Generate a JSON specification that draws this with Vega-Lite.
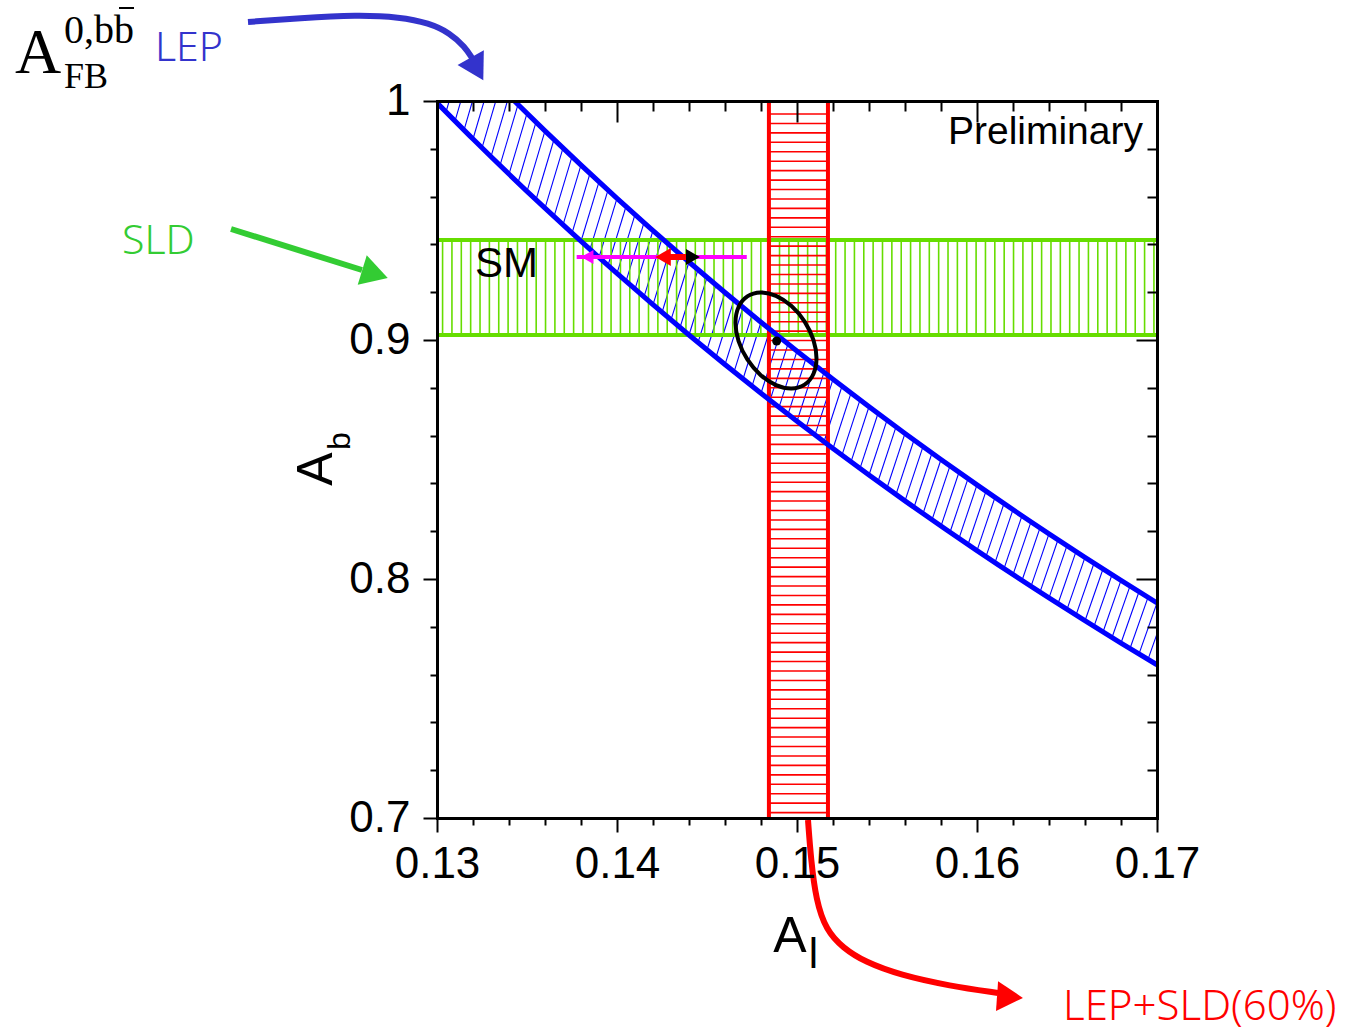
{
"$schema": "https://vega.github.io/schema/vega-lite/v6.json",
"width": 720, "height": 717,
"autosize": {"type": "none"},
"padding": {"left": 437, "top": 101, "right": 203, "bottom": 211},
"background": "white",
"config": {"view": {"stroke": null}},
"datasets": {
"hatchB": [
{"x1":0.1300,"y1":0.99923,"x2":0.1310,"y2":1.02519},
{"x1":0.1305,"y1":0.99539,"x2":0.1315,"y2":1.02130},
{"x1":0.1310,"y1":0.99161,"x2":0.1320,"y2":1.01743},
{"x1":0.1315,"y1":0.98784,"x2":0.1325,"y2":1.01359},
{"x1":0.1320,"y1":0.98409,"x2":0.1330,"y2":1.00977},
{"x1":0.1325,"y1":0.98039,"x2":0.1335,"y2":1.00599},
{"x1":0.1330,"y1":0.97669,"x2":0.1340,"y2":1.00224},
{"x1":0.1335,"y1":0.97303,"x2":0.1345,"y2":0.99851},
{"x1":0.1340,"y1":0.96940,"x2":0.1350,"y2":0.99481},
{"x1":0.1345,"y1":0.96580,"x2":0.1355,"y2":0.99114},
{"x1":0.1350,"y1":0.96222,"x2":0.1360,"y2":0.98750},
{"x1":0.1355,"y1":0.95867,"x2":0.1365,"y2":0.98388},
{"x1":0.1360,"y1":0.95514,"x2":0.1370,"y2":0.98030},
{"x1":0.1365,"y1":0.95165,"x2":0.1375,"y2":0.97672},
{"x1":0.1370,"y1":0.94818,"x2":0.1380,"y2":0.97319},
{"x1":0.1375,"y1":0.94472,"x2":0.1385,"y2":0.96968},
{"x1":0.1380,"y1":0.94131,"x2":0.1390,"y2":0.96619},
{"x1":0.1385,"y1":0.93791,"x2":0.1395,"y2":0.96273},
{"x1":0.1390,"y1":0.93453,"x2":0.1400,"y2":0.95929},
{"x1":0.1395,"y1":0.93119,"x2":0.1405,"y2":0.95586},
{"x1":0.1400,"y1":0.92786,"x2":0.1410,"y2":0.95249},
{"x1":0.1405,"y1":0.92455,"x2":0.1415,"y2":0.94911},
{"x1":0.1410,"y1":0.92128,"x2":0.1420,"y2":0.94578},
{"x1":0.1415,"y1":0.91801,"x2":0.1425,"y2":0.94246},
{"x1":0.1420,"y1":0.91480,"x2":0.1430,"y2":0.93916},
{"x1":0.1425,"y1":0.91158,"x2":0.1435,"y2":0.93588},
{"x1":0.1430,"y1":0.90839,"x2":0.1440,"y2":0.93263},
{"x1":0.1435,"y1":0.90522,"x2":0.1445,"y2":0.92941},
{"x1":0.1440,"y1":0.90208,"x2":0.1450,"y2":0.92622},
{"x1":0.1445,"y1":0.89896,"x2":0.1455,"y2":0.92303},
{"x1":0.1450,"y1":0.89587,"x2":0.1460,"y2":0.91986},
{"x1":0.1455,"y1":0.89279,"x2":0.1465,"y2":0.91672},
{"x1":0.1460,"y1":0.88972,"x2":0.1470,"y2":0.91360},
{"x1":0.1465,"y1":0.88669,"x2":0.1475,"y2":0.91051},
{"x1":0.1470,"y1":0.88367,"x2":0.1480,"y2":0.90743},
{"x1":0.1475,"y1":0.88068,"x2":0.1485,"y2":0.90438},
{"x1":0.1480,"y1":0.87771,"x2":0.1490,"y2":0.90134},
{"x1":0.1485,"y1":0.87475,"x2":0.1495,"y2":0.89833},
{"x1":0.1490,"y1":0.87181,"x2":0.1500,"y2":0.89534},
{"x1":0.1495,"y1":0.86890,"x2":0.1505,"y2":0.89236},
{"x1":0.1500,"y1":0.86600,"x2":0.1510,"y2":0.88941},
{"x1":0.1505,"y1":0.86313,"x2":0.1515,"y2":0.88647},
{"x1":0.1510,"y1":0.86027,"x2":0.1520,"y2":0.88355},
{"x1":0.1515,"y1":0.85743,"x2":0.1525,"y2":0.88066},
{"x1":0.1520,"y1":0.85460,"x2":0.1530,"y2":0.87777},
{"x1":0.1525,"y1":0.85180,"x2":0.1535,"y2":0.87492},
{"x1":0.1530,"y1":0.84902,"x2":0.1540,"y2":0.87208},
{"x1":0.1535,"y1":0.84626,"x2":0.1545,"y2":0.86926},
{"x1":0.1540,"y1":0.84351,"x2":0.1550,"y2":0.86645},
{"x1":0.1545,"y1":0.84078,"x2":0.1555,"y2":0.86367},
{"x1":0.1550,"y1":0.83806,"x2":0.1560,"y2":0.86090},
{"x1":0.1555,"y1":0.83538,"x2":0.1565,"y2":0.85815},
{"x1":0.1560,"y1":0.83270,"x2":0.1570,"y2":0.85541},
{"x1":0.1565,"y1":0.83003,"x2":0.1575,"y2":0.85270},
{"x1":0.1570,"y1":0.82738,"x2":0.1580,"y2":0.85000},
{"x1":0.1575,"y1":0.82476,"x2":0.1585,"y2":0.84731},
{"x1":0.1580,"y1":0.82215,"x2":0.1590,"y2":0.84465},
{"x1":0.1585,"y1":0.81955,"x2":0.1595,"y2":0.84201},
{"x1":0.1590,"y1":0.81698,"x2":0.1600,"y2":0.83938},
{"x1":0.1595,"y1":0.81442,"x2":0.1605,"y2":0.83676},
{"x1":0.1600,"y1":0.81188,"x2":0.1610,"y2":0.83417},
{"x1":0.1605,"y1":0.80935,"x2":0.1615,"y2":0.83159},
{"x1":0.1610,"y1":0.80684,"x2":0.1620,"y2":0.82900},
{"x1":0.1615,"y1":0.80434,"x2":0.1625,"y2":0.82645},
{"x1":0.1620,"y1":0.80184,"x2":0.1630,"y2":0.82393},
{"x1":0.1625,"y1":0.79938,"x2":0.1635,"y2":0.82141},
{"x1":0.1630,"y1":0.79694,"x2":0.1640,"y2":0.81891},
{"x1":0.1635,"y1":0.79450,"x2":0.1645,"y2":0.81641},
{"x1":0.1640,"y1":0.79208,"x2":0.1650,"y2":0.81394},
{"x1":0.1645,"y1":0.78966,"x2":0.1655,"y2":0.81148},
{"x1":0.1650,"y1":0.78727,"x2":0.1660,"y2":0.80903},
{"x1":0.1655,"y1":0.78490,"x2":0.1665,"y2":0.80661},
{"x1":0.1660,"y1":0.78253,"x2":0.1670,"y2":0.80419},
{"x1":0.1665,"y1":0.78018,"x2":0.1675,"y2":0.80178},
{"x1":0.1670,"y1":0.77784,"x2":0.1680,"y2":0.79941},
{"x1":0.1675,"y1":0.77551,"x2":0.1685,"y2":0.79703},
{"x1":0.1680,"y1":0.77321,"x2":0.1690,"y2":0.79468},
{"x1":0.1685,"y1":0.77092,"x2":0.1695,"y2":0.79233},
{"x1":0.1690,"y1":0.76865,"x2":0.1700,"y2":0.79000},
{"x1":0.1695,"y1":0.76637,"x2":0.1705,"y2":0.78768},
{"x1":0.1700,"y1":0.76412,"x2":0.1710,"y2":0.78539}
],
"hatchG": [
{"x":0.13031},{"x":0.13083},{"x":0.13135},{"x":0.13187},{"x":0.13239},{"x":0.13291},{"x":0.13343},{"x":0.13395},{"x":0.13447},{"x":0.13499},
{"x":0.13551},{"x":0.13603},{"x":0.13655},{"x":0.13707},{"x":0.13759},{"x":0.13811},{"x":0.13863},{"x":0.13915},{"x":0.13967},{"x":0.14019},
{"x":0.14071},{"x":0.14123},{"x":0.14175},{"x":0.14227},{"x":0.14279},{"x":0.14331},{"x":0.14383},{"x":0.14435},{"x":0.14487},{"x":0.14539},
{"x":0.14591},{"x":0.14643},{"x":0.14695},{"x":0.14747},{"x":0.14799},{"x":0.14851},{"x":0.14903},{"x":0.14955},{"x":0.15007},{"x":0.15059},
{"x":0.15111},{"x":0.15163},{"x":0.15215},{"x":0.15267},{"x":0.15319},{"x":0.15371},{"x":0.15423},{"x":0.15475},{"x":0.15527},{"x":0.15579},
{"x":0.15631},{"x":0.15683},{"x":0.15735},{"x":0.15787},{"x":0.15839},{"x":0.15891},{"x":0.15943},{"x":0.15995},{"x":0.16047},{"x":0.16099},
{"x":0.16151},{"x":0.16203},{"x":0.16255},{"x":0.16307},{"x":0.16359},{"x":0.16411},{"x":0.16463},{"x":0.16515},{"x":0.16567},{"x":0.16619},
{"x":0.16671},{"x":0.16723},{"x":0.16775},{"x":0.16827},{"x":0.16879},{"x":0.16931},{"x":0.16983}
],
"hatchR": [
{"y":0.99456},{"y":0.99061},{"y":0.98666},{"y":0.98271},{"y":0.97876},{"y":0.97481},{"y":0.97086},{"y":0.96691},{"y":0.96296},{"y":0.95901},
{"y":0.95506},{"y":0.95111},{"y":0.94716},{"y":0.94321},{"y":0.93926},{"y":0.93531},{"y":0.93136},{"y":0.92741},{"y":0.92346},{"y":0.91951},
{"y":0.91556},{"y":0.91161},{"y":0.90766},{"y":0.90371},{"y":0.89976},{"y":0.89581},{"y":0.89186},{"y":0.88791},{"y":0.88396},{"y":0.88001},
{"y":0.87606},{"y":0.87211},{"y":0.86816},{"y":0.86421},{"y":0.86026},{"y":0.85631},{"y":0.85236},{"y":0.84841},{"y":0.84446},{"y":0.84051},
{"y":0.83656},{"y":0.83261},{"y":0.82866},{"y":0.82471},{"y":0.82076},{"y":0.81681},{"y":0.81286},{"y":0.80891},{"y":0.80496},{"y":0.80101},
{"y":0.79706},{"y":0.79311},{"y":0.78916},{"y":0.78521},{"y":0.78126},{"y":0.77731},{"y":0.77336},{"y":0.76941},{"y":0.76546},{"y":0.76151},
{"y":0.75756},{"y":0.75361},{"y":0.74966},{"y":0.74571},{"y":0.74176},{"y":0.73781},{"y":0.73386},{"y":0.72991},{"y":0.72596},{"y":0.72201},
{"y":0.71806},{"y":0.71411},{"y":0.71016},{"y":0.70621},{"y":0.70226}
],
"sldBand": [{"edge":"low","y":0.9021},{"edge":"high","y":0.9418}],
"combBand": [{"edge":"low","x":0.14844},{"edge":"high","x":0.15172}],
"lepBand": [
{"side":"upper","x":0.1343,"y":1.0},{"side":"upper","x":0.136,"y":0.9875},{"side":"upper","x":0.14,"y":0.959286},{"side":"upper","x":0.144,"y":0.932639},{"side":"upper","x":0.148,"y":0.907432},{"side":"upper","x":0.152,"y":0.883553},{"side":"upper","x":0.156,"y":0.860897},{"side":"upper","x":0.16,"y":0.839375},{"side":"upper","x":0.164,"y":0.818902},{"side":"upper","x":0.168,"y":0.799405},{"side":"upper","x":0.17,"y":0.79},
{"side":"lower","x":0.13,"y":0.99923},{"side":"lower","x":0.132,"y":0.984091},{"side":"lower","x":0.136,"y":0.955147},{"side":"lower","x":0.14,"y":0.927857},{"side":"lower","x":0.144,"y":0.902083},{"side":"lower","x":0.148,"y":0.877703},{"side":"lower","x":0.152,"y":0.854605},{"side":"lower","x":0.156,"y":0.832692},{"side":"lower","x":0.16,"y":0.811875},{"side":"lower","x":0.164,"y":0.792073},{"side":"lower","x":0.168,"y":0.773214},{"side":"lower","x":0.17,"y":0.764118}
],
"ellipse": [
{"i":0,"x":0.151083,"y":0.892342},{"i":1,"x":0.150912,"y":0.885767},{"i":2,"x":0.150424,"y":0.881328},{"i":3,"x":0.149694,"y":0.879699},
{"i":4,"x":0.148833,"y":0.881129},{"i":5,"x":0.147972,"y":0.885399},{"i":6,"x":0.147242,"y":0.891862},{"i":7,"x":0.146754,"y":0.899529},
{"i":8,"x":0.146583,"y":0.907238},{"i":9,"x":0.146754,"y":0.913813},{"i":10,"x":0.147242,"y":0.918252},{"i":11,"x":0.147972,"y":0.919881},
{"i":12,"x":0.148833,"y":0.918451},{"i":13,"x":0.149694,"y":0.914181},{"i":14,"x":0.150424,"y":0.907718},{"i":15,"x":0.150912,"y":0.900051}
],
"fit": [{"x":0.14887,"y":0.89958}],
"smMag": [{"xlo":0.13776,"xhi":0.14721,"y":0.93473}],
"smRed": [{"xlo":0.14250,"xhi":0.14410,"y":0.93473}],
"arrowBlue": [
{"x":0.1195,"y":1.033054},{"x":0.122389,"y":1.034728},{"x":0.125556,"y":1.035983},{"x":0.127944,"y":1.035146},{"x":0.129556,"y":1.032636},{"x":0.130722,"y":1.028452},{"x":0.131556,"y":1.022594},{"x":0.131944,"y":1.017992}
],
"arrowGreen": [{"x":0.118556,"y":0.946444},{"x":0.125833,"y":0.929289}],
"arrowRed": [
{"x":0.150611,"y":0.699163},{"x":0.150778,"y":0.682427},{"x":0.151056,"y":0.66569},{"x":0.151611,"y":0.653138},{"x":0.152556,"y":0.645607},{"x":0.153778,"y":0.639749},{"x":0.155722,"y":0.63431},{"x":0.1585,"y":0.629707},{"x":0.161167,"y":0.626778}
]
},
"layer": [
{"data":{"name":"hatchB"},"mark":{"type":"rule","color":"#0000ff","strokeWidth":1.1,"clip":true},
 "encoding":{
  "x":{"field":"x1","type":"quantitative","scale":{"domain":[0.13,0.17],"nice":false,"zero":false},
   "axis":{"orient":"bottom","title":null,"values":[0.13,0.132,0.134,0.136,0.138,0.14,0.142,0.144,0.146,0.148,0.15,0.152,0.154,0.156,0.158,0.16,0.162,0.164,0.166,0.168,0.17],"grid":false,"domain":true,"domainColor":"#000000","domainWidth":3,"domainCap":"square","tickColor":"#000000","tickWidth":2,"tickSize":{"condition":{"test":"abs(datum.value*100-round(datum.value*100))<0.01","value":14},"value":7},"labelExpr":"abs(datum.value*100-round(datum.value*100))<0.01 ? format(datum.value,'.2f') : ''","labelFont":"Liberation Sans","labelFontSize":44,"labelColor":"#000000","labelPadding":10,"labelFlush":false,"labelOverlap":false,"labelBound":false,"zindex":1}},
  "y":{"field":"y1","type":"quantitative","scale":{"domain":[0.7,1.0],"nice":false,"zero":false},
   "axis":{"orient":"left","title":null,"values":[0.7,0.72,0.74,0.76,0.78,0.8,0.82,0.84,0.86,0.88,0.9,0.92,0.94,0.96,0.98,1.0],"grid":false,"domain":true,"domainColor":"#000000","domainWidth":3,"domainCap":"square","tickColor":"#000000","tickWidth":2,"tickSize":{"condition":{"test":"abs(datum.value*10-round(datum.value*10))<0.01","value":14},"value":7},"labelExpr":"abs(datum.value*10-round(datum.value*10))<0.01 ? format(round(datum.value*10)/10,'~g') : ''","labelFont":"Liberation Sans","labelFontSize":44,"labelColor":"#000000","labelPadding":13,"labelOverlap":false,"labelBound":false,"labelFlush":false,"zindex":1}},
  "x2":{"field":"x2"},"y2":{"field":"y2"}}},
{"data":{"name":"hatchG"},"mark":{"type":"rule","color":"#66dd00","strokeWidth":1.6,"clip":true},
 "encoding":{
  "x":{"field":"x","type":"quantitative","scale":{"domain":[0.13,0.17],"nice":false,"zero":false},"axis":null},
  "y":{"datum":0.9021,"type":"quantitative","scale":{"domain":[0.7,1.0],"nice":false,"zero":false},"axis":null},
  "y2":{"datum":0.9418}}},
{"data":{"name":"hatchR"},"mark":{"type":"rule","color":"#ff0000","strokeWidth":1.6,"clip":true},
 "encoding":{
  "y":{"field":"y","type":"quantitative","scale":{"domain":[0.7,1.0],"nice":false,"zero":false},"axis":null},
  "x":{"datum":0.14844,"type":"quantitative","scale":{"domain":[0.13,0.17],"nice":false,"zero":false},"axis":null},
  "x2":{"datum":0.15172}}},
{"data":{"name":"sldBand"},"mark":{"type":"rule","color":"#66dd00","strokeWidth":4,"clip":true},
 "encoding":{
  "y":{"field":"y","type":"quantitative","scale":{"domain":[0.7,1.0],"nice":false,"zero":false},"axis":null},
  "x":{"datum":0.13,"type":"quantitative","scale":{"domain":[0.13,0.17],"nice":false,"zero":false},"axis":null},
  "x2":{"datum":0.17}}},
{"data":{"name":"combBand"},"mark":{"type":"rule","color":"#ff0000","strokeWidth":4,"clip":true},
 "encoding":{
  "x":{"field":"x","type":"quantitative","scale":{"domain":[0.13,0.17],"nice":false,"zero":false},"axis":null},
  "y":{"datum":0.7,"type":"quantitative","scale":{"domain":[0.7,1.0],"nice":false,"zero":false},"axis":null},
  "y2":{"datum":1.0}}},
{"data":{"name":"lepBand"},"mark":{"type":"line","color":"#0000ff","strokeWidth":5,"interpolate":"monotone","clip":true},
 "encoding":{
  "x":{"field":"x","type":"quantitative","scale":{"domain":[0.13,0.17],"nice":false,"zero":false},
   "axis":{"orient":"top","title":null,"values":[0.13,0.132,0.134,0.136,0.138,0.14,0.142,0.144,0.146,0.148,0.15,0.152,0.154,0.156,0.158,0.16,0.162,0.164,0.166,0.168,0.17],"grid":false,"domain":true,"domainColor":"#000000","domainWidth":3,"domainCap":"square","tickColor":"#000000","tickWidth":2,"tickSize":{"condition":{"test":"abs(datum.value*100-round(datum.value*100))<0.01","value":-21},"value":-10},"labels":false,"zindex":1}},
  "y":{"field":"y","type":"quantitative","scale":{"domain":[0.7,1.0],"nice":false,"zero":false},
   "axis":{"orient":"right","title":null,"values":[0.7,0.72,0.74,0.76,0.78,0.8,0.82,0.84,0.86,0.88,0.9,0.92,0.94,0.96,0.98,1.0],"grid":false,"domain":true,"domainColor":"#000000","domainWidth":3,"domainCap":"square","tickColor":"#000000","tickWidth":2,"tickSize":{"condition":{"test":"abs(datum.value*10-round(datum.value*10))<0.01","value":-21},"value":-10},"labels":false,"zindex":1}},
  "detail":{"field":"side"}}},
{"data":{"name":"ellipse"},"mark":{"type":"line","color":"#000000","strokeWidth":4,"interpolate":"cardinal-closed"},
 "encoding":{
  "x":{"field":"x","type":"quantitative","scale":{"domain":[0.13,0.17],"nice":false,"zero":false},"axis":null},
  "y":{"field":"y","type":"quantitative","scale":{"domain":[0.7,1.0],"nice":false,"zero":false},"axis":null},
  "order":{"field":"i"}}},
{"data":{"name":"fit"},"mark":{"type":"point","filled":true,"color":"#000000","size":80,"opacity":1},
 "encoding":{
  "x":{"field":"x","type":"quantitative","scale":{"domain":[0.13,0.17],"nice":false,"zero":false},"axis":null},
  "y":{"field":"y","type":"quantitative","scale":{"domain":[0.7,1.0],"nice":false,"zero":false},"axis":null}}},
{"data":{"name":"smMag"},"mark":{"type":"rule","color":"#ff00ff","strokeWidth":4},
 "encoding":{
  "x":{"field":"xlo","type":"quantitative","scale":{"domain":[0.13,0.17],"nice":false,"zero":false},"axis":null},
  "x2":{"field":"xhi"},
  "y":{"field":"y","type":"quantitative","scale":{"domain":[0.7,1.0],"nice":false,"zero":false},"axis":null}}},
{"data":{"name":"smMag"},"mark":{"type":"point","shape":"triangle-left","filled":true,"color":"#ff00ff","size":200,"opacity":1},
 "encoding":{
  "x":{"datum":0.13835,"type":"quantitative","scale":{"domain":[0.13,0.17],"nice":false,"zero":false},"axis":null},
  "y":{"field":"y","type":"quantitative","scale":{"domain":[0.7,1.0],"nice":false,"zero":false},"axis":null}}},
{"data":{"name":"smRed"},"mark":{"type":"rule","color":"#ff0000","strokeWidth":6},
 "encoding":{
  "x":{"field":"xlo","type":"quantitative","scale":{"domain":[0.13,0.17],"nice":false,"zero":false},"axis":null},
  "x2":{"field":"xhi"},
  "y":{"field":"y","type":"quantitative","scale":{"domain":[0.7,1.0],"nice":false,"zero":false},"axis":null}}},
{"data":{"name":"smRed"},"mark":{"type":"point","shape":"triangle-left","filled":true,"color":"#ff0000","size":320,"opacity":1},
 "encoding":{
  "x":{"datum":0.14256,"type":"quantitative","scale":{"domain":[0.13,0.17],"nice":false,"zero":false},"axis":null},
  "y":{"field":"y","type":"quantitative","scale":{"domain":[0.7,1.0],"nice":false,"zero":false},"axis":null}}},
{"data":{"name":"smRed"},"mark":{"type":"point","shape":"triangle-right","filled":true,"color":"#000000","size":260,"opacity":1},
 "encoding":{
  "x":{"datum":0.14422,"type":"quantitative","scale":{"domain":[0.13,0.17],"nice":false,"zero":false},"axis":null},
  "y":{"field":"y","type":"quantitative","scale":{"domain":[0.7,1.0],"nice":false,"zero":false},"axis":null}}},
{"data":{"values":[{"label":"SM"}]},"mark":{"type":"text","align":"left","baseline":"alphabetic","font":"Liberation Sans","fontSize":42,"color":"#000000"},
 "encoding":{
  "x":{"datum":0.132111,"type":"quantitative","scale":{"domain":[0.13,0.17],"nice":false,"zero":false},"axis":null},
  "y":{"datum":0.92636,"type":"quantitative","scale":{"domain":[0.7,1.0],"nice":false,"zero":false},"axis":null},
  "text":{"field":"label"}}},
{"data":{"values":[{"label":"Preliminary"}]},"mark":{"type":"text","align":"right","baseline":"alphabetic","font":"Liberation Sans","fontSize":39,"color":"#000000"},
 "encoding":{
  "x":{"datum":0.169222,"type":"quantitative","scale":{"domain":[0.13,0.17],"nice":false,"zero":false},"axis":null},
  "y":{"datum":0.982008,"type":"quantitative","scale":{"domain":[0.7,1.0],"nice":false,"zero":false},"axis":null},
  "text":{"field":"label"}}},
{"data":{"values":[{"label":"A"}]},"mark":{"type":"text","align":"center","baseline":"alphabetic","font":"Liberation Sans","fontSize":50,"color":"#000000"},
 "encoding":{
  "x":{"datum":0.149611,"type":"quantitative","scale":{"domain":[0.13,0.17],"nice":false,"zero":false},"axis":null},
  "y":{"datum":0.644059,"type":"quantitative","scale":{"domain":[0.7,1.0],"nice":false,"zero":false},"axis":null},
  "text":{"field":"label"}}},
{"data":{"values":[{"label":"l"}]},"mark":{"type":"text","align":"center","baseline":"alphabetic","font":"Liberation Sans","fontSize":42,"color":"#000000"},
 "encoding":{
  "x":{"datum":0.150917,"type":"quantitative","scale":{"domain":[0.13,0.17],"nice":false,"zero":false},"axis":null},
  "y":{"datum":0.637238,"type":"quantitative","scale":{"domain":[0.7,1.0],"nice":false,"zero":false},"axis":null},
  "text":{"field":"label"}}},
{"data":{"values":[{"label":"A"}]},"mark":{"type":"text","align":"center","baseline":"alphabetic","angle":270,"font":"Liberation Sans","fontSize":50,"color":"#000000"},
 "encoding":{
  "x":{"datum":0.12415,"type":"quantitative","scale":{"domain":[0.13,0.17],"nice":false,"zero":false},"axis":null},
  "y":{"datum":0.846025,"type":"quantitative","scale":{"domain":[0.7,1.0],"nice":false,"zero":false},"axis":null},
  "text":{"field":"label"}}},
{"data":{"values":[{"label":"b"}]},"mark":{"type":"text","align":"center","baseline":"alphabetic","angle":270,"font":"Liberation Sans","fontSize":32,"color":"#000000"},
 "encoding":{
  "x":{"datum":0.125167,"type":"quantitative","scale":{"domain":[0.13,0.17],"nice":false,"zero":false},"axis":null},
  "y":{"datum":0.857741,"type":"quantitative","scale":{"domain":[0.7,1.0],"nice":false,"zero":false},"axis":null},
  "text":{"field":"label"}}},
{"data":{"name":"arrowBlue"},"mark":{"type":"line","color":"#3333cc","strokeWidth":6,"interpolate":"basis"},
 "encoding":{
  "x":{"field":"x","type":"quantitative","scale":{"domain":[0.13,0.17],"nice":false,"zero":false},"axis":null},
  "y":{"field":"y","type":"quantitative","scale":{"domain":[0.7,1.0],"nice":false,"zero":false},"axis":null}}},
{"data":{"values":[{"head":"LEP"}]},"mark":{"type":"point","shape":"triangle-right","filled":true,"color":"#3333cc","size":900,"angle":61,"opacity":1},
 "encoding":{
  "x":{"datum":0.132222,"type":"quantitative","scale":{"domain":[0.13,0.17],"nice":false,"zero":false},"axis":null},
  "y":{"datum":1.013389,"type":"quantitative","scale":{"domain":[0.7,1.0],"nice":false,"zero":false},"axis":null}}},
{"data":{"name":"arrowGreen"},"mark":{"type":"line","color":"#33cc33","strokeWidth":6},
 "encoding":{
  "x":{"field":"x","type":"quantitative","scale":{"domain":[0.13,0.17],"nice":false,"zero":false},"axis":null},
  "y":{"field":"y","type":"quantitative","scale":{"domain":[0.7,1.0],"nice":false,"zero":false},"axis":null}}},
{"data":{"values":[{"head":"SLD"}]},"mark":{"type":"point","shape":"triangle-right","filled":true,"color":"#33cc33","size":950,"angle":17,"opacity":1},
 "encoding":{
  "x":{"datum":0.126556,"type":"quantitative","scale":{"domain":[0.13,0.17],"nice":false,"zero":false},"axis":null},
  "y":{"datum":0.927615,"type":"quantitative","scale":{"domain":[0.7,1.0],"nice":false,"zero":false},"axis":null}}},
{"data":{"name":"arrowRed"},"mark":{"type":"line","color":"#ff0000","strokeWidth":6,"interpolate":"basis"},
 "encoding":{
  "x":{"field":"x","type":"quantitative","scale":{"domain":[0.13,0.17],"nice":false,"zero":false},"axis":null},
  "y":{"field":"y","type":"quantitative","scale":{"domain":[0.7,1.0],"nice":false,"zero":false},"axis":null}}},
{"data":{"values":[{"head":"LEP+SLD"}]},"mark":{"type":"point","shape":"triangle-right","filled":true,"color":"#ff0000","size":900,"angle":4,"opacity":1},
 "encoding":{
  "x":{"datum":0.161833,"type":"quantitative","scale":{"domain":[0.13,0.17],"nice":false,"zero":false},"axis":null},
  "y":{"datum":0.625105,"type":"quantitative","scale":{"domain":[0.7,1.0],"nice":false,"zero":false},"axis":null}}},
{"data":{"values":[{"label":"LEP+SLD(60%)"}]},"mark":{"type":"text","align":"left","baseline":"alphabetic","font":"Noto Sans","fontWeight":300,"fontSize":42,"color":"#ff0000"},
 "encoding":{
  "x":{"datum":0.164778,"type":"quantitative","scale":{"domain":[0.13,0.17],"nice":false,"zero":false},"axis":null},
  "y":{"datum":0.615481,"type":"quantitative","scale":{"domain":[0.7,1.0],"nice":false,"zero":false},"axis":null},
  "text":{"field":"label"}}},
{"data":{"values":[{"label":"SLD"}]},"mark":{"type":"text","align":"left","baseline":"alphabetic","font":"Noto Sans","fontWeight":300,"fontSize":41,"color":"#33cc33"},
 "encoding":{
  "x":{"datum":0.1125,"type":"quantitative","scale":{"domain":[0.13,0.17],"nice":false,"zero":false},"axis":null},
  "y":{"datum":0.935983,"type":"quantitative","scale":{"domain":[0.7,1.0],"nice":false,"zero":false},"axis":null},
  "text":{"field":"label"}}},
{"data":{"values":[{"label":"LEP"}]},"mark":{"type":"text","align":"left","baseline":"alphabetic","font":"Noto Sans","fontWeight":300,"fontSize":41,"color":"#3333cc"},
 "encoding":{
  "x":{"datum":0.114333,"type":"quantitative","scale":{"domain":[0.13,0.17],"nice":false,"zero":false},"axis":null},
  "y":{"datum":1.016736,"type":"quantitative","scale":{"domain":[0.7,1.0],"nice":false,"zero":false},"axis":null},
  "text":{"field":"label"}}},
{"data":{"values":[{"label":"A"}]},"mark":{"type":"text","align":"left","baseline":"alphabetic","font":"Liberation Serif","fontSize":64,"color":"#000000"},
 "encoding":{
  "x":{"datum":0.106556,"type":"quantitative","scale":{"domain":[0.13,0.17],"nice":false,"zero":false},"axis":null},
  "y":{"datum":1.011715,"type":"quantitative","scale":{"domain":[0.7,1.0],"nice":false,"zero":false},"axis":null},
  "text":{"field":"label"}}},
{"data":{"values":[{"label":"0,bb"}]},"mark":{"type":"text","align":"left","baseline":"alphabetic","font":"Liberation Serif","fontSize":40,"color":"#000000"},
 "encoding":{
  "x":{"datum":0.109278,"type":"quantitative","scale":{"domain":[0.13,0.17],"nice":false,"zero":false},"axis":null},
  "y":{"datum":1.024268,"type":"quantitative","scale":{"domain":[0.7,1.0],"nice":false,"zero":false},"axis":null},
  "text":{"field":"label"}}},
{"data":{"values":[{"label":"FB"}]},"mark":{"type":"text","align":"left","baseline":"alphabetic","font":"Liberation Serif","fontSize":36,"color":"#000000"},
 "encoding":{
  "x":{"datum":0.109278,"type":"quantitative","scale":{"domain":[0.13,0.17],"nice":false,"zero":false},"axis":null},
  "y":{"datum":1.005439,"type":"quantitative","scale":{"domain":[0.7,1.0],"nice":false,"zero":false},"axis":null},
  "text":{"field":"label"}}},
{"data":{"values":[{"bar":"bbar"}]},"mark":{"type":"rule","color":"#000000","strokeWidth":2},
 "encoding":{
  "x":{"datum":0.112333,"type":"quantitative","scale":{"domain":[0.13,0.17],"nice":false,"zero":false},"axis":null},
  "x2":{"datum":0.113167},
  "y":{"datum":1.038912,"type":"quantitative","scale":{"domain":[0.7,1.0],"nice":false,"zero":false},"axis":null}}}
],
"resolve": {"axis": {"x": "independent", "y": "independent"}}
}
